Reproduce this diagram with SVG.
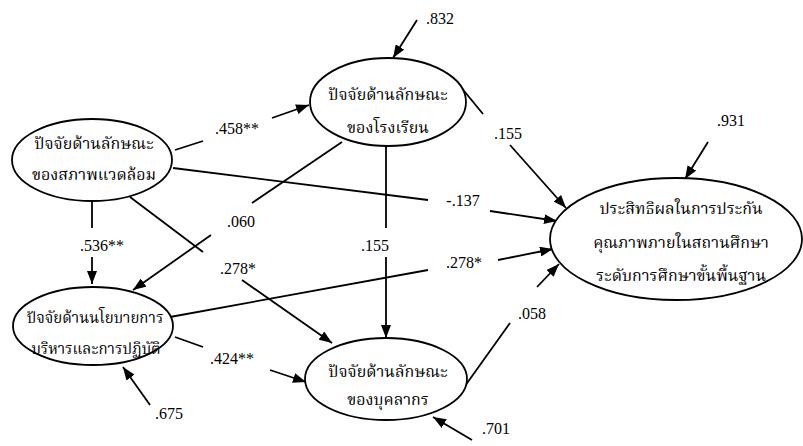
<svg xmlns="http://www.w3.org/2000/svg" width="803" height="446" viewBox="0 0 803 446">
<defs>
<marker id="ah" markerUnits="userSpaceOnUse" markerWidth="14" markerHeight="10" refX="13" refY="5" orient="auto">
<path d="M0,0 L13,5 L0,10 z" fill="#000"/>
</marker>
<style>
.n ellipse{fill:#fff;stroke:#000;stroke-width:1.8}
.n text{font-family:"Liberation Serif","Noto Serif Thai","Noto Sans Thai",serif;font-size:16px;text-anchor:middle;fill:#000}
.e line{stroke:#000;stroke-width:1.8}
.e line.a{marker-end:url(#ah)}
.lbl{font-family:"Liberation Serif","Times New Roman",serif;font-size:16px;fill:#000;text-anchor:middle}
</style>
</defs>
<rect width="803" height="446" fill="#fff"/>
<g id="connectors" class="e">
<line x1="175" y1="150" x2="203" y2="141"/>
<line class="a" x1="272" y1="118" x2="309" y2="105"/>
<line x1="173" y1="168" x2="428" y2="200"/>
<line class="a" x1="490" y1="211" x2="557" y2="221"/>
<line x1="460" y1="86" x2="483" y2="114"/>
<line class="a" x1="510" y1="145" x2="566" y2="208"/>
<line x1="342" y1="142" x2="252" y2="203"/>
<line class="a" x1="211" y1="235" x2="133" y2="290"/>
<line x1="92" y1="201" x2="92" y2="228"/>
<line class="a" x1="92" y1="257" x2="92" y2="284"/>
<line x1="130" y1="197" x2="203" y2="252"/>
<line class="a" x1="242" y1="280" x2="332" y2="343"/>
<line x1="170" y1="317" x2="428" y2="270"/>
<line class="a" x1="498" y1="260" x2="553" y2="249"/>
<line x1="386" y1="146" x2="386" y2="228"/>
<line class="a" x1="386" y1="257" x2="386" y2="338"/>
<line x1="175" y1="337" x2="203" y2="347"/>
<line class="a" x1="270" y1="370" x2="306" y2="382"/>
<line x1="460" y1="393" x2="510" y2="323"/>
<line class="a" x1="537" y1="287" x2="559" y2="264"/>
<line class="a" x1="417" y1="20" x2="393" y2="58"/>
<line class="a" x1="708" y1="142" x2="685" y2="179"/>
<line class="a" x1="150" y1="405" x2="123" y2="367"/>
<line class="a" x1="472" y1="440" x2="433" y2="417"/>
</g>
<g id="labels" font-family="Liberation Serif, Times New Roman, serif">
<text class="lbl" x="237" y="134">.458**</text>
<text class="lbl" x="463" y="206">-.137</text>
<text class="lbl" x="508" y="139">.155</text>
<text class="lbl" x="241" y="227">.060</text>
<text class="lbl" x="102" y="251">.536**</text>
<text class="lbl" x="238" y="274">.278*</text>
<text class="lbl" x="464" y="268">.278*</text>
<text class="lbl" x="375" y="251">.155</text>
<text class="lbl" x="232" y="364">.424**</text>
<text class="lbl" x="532" y="319">.058</text>
<text class="lbl" x="440" y="24">.832</text>
<text class="lbl" x="731" y="126">.931</text>
<text class="lbl" x="169" y="419">.675</text>
<text class="lbl" x="496" y="434">.701</text>
</g>
<g id="env" class="n">
<ellipse cx="92" cy="160" rx="80" ry="41"/>
<text x="94" y="149">ปัจจัยด้านลักษณะ</text>
<text x="94" y="180">ของสภาพแวดล้อม</text>
</g>
<g id="school" class="n">
<ellipse cx="388" cy="102" rx="78" ry="44"/>
<text x="388" y="100">ปัจจัยด้านลักษณะ</text>
<text x="388" y="133">ของโรงเรียน</text>
</g>
<g id="policy" class="n">
<ellipse cx="93" cy="326" rx="80" ry="39"/>
<text x="95" y="323" style="font-size:15px">ปัจจัยด้านนโยบายการ</text>
<text x="96" y="354" style="font-size:15px">บริหารและการปฏิบัติ</text>
</g>
<g id="personnel" class="n">
<ellipse cx="386" cy="379" rx="81" ry="41"/>
<text x="388" y="377">ปัจจัยด้านลักษณะ</text>
<text x="388" y="405">ของบุคลากร</text>
</g>
<g id="outcome" class="n">
<ellipse cx="676" cy="239" rx="126" ry="61"/>
<text x="681" y="214">ประสิทธิผลในการประกัน</text>
<text x="681" y="248">คุณภาพภายในสถานศึกษา</text>
<text x="681" y="281">ระดับการศึกษาขั้นพื้นฐาน</text>
</g>
</svg>
